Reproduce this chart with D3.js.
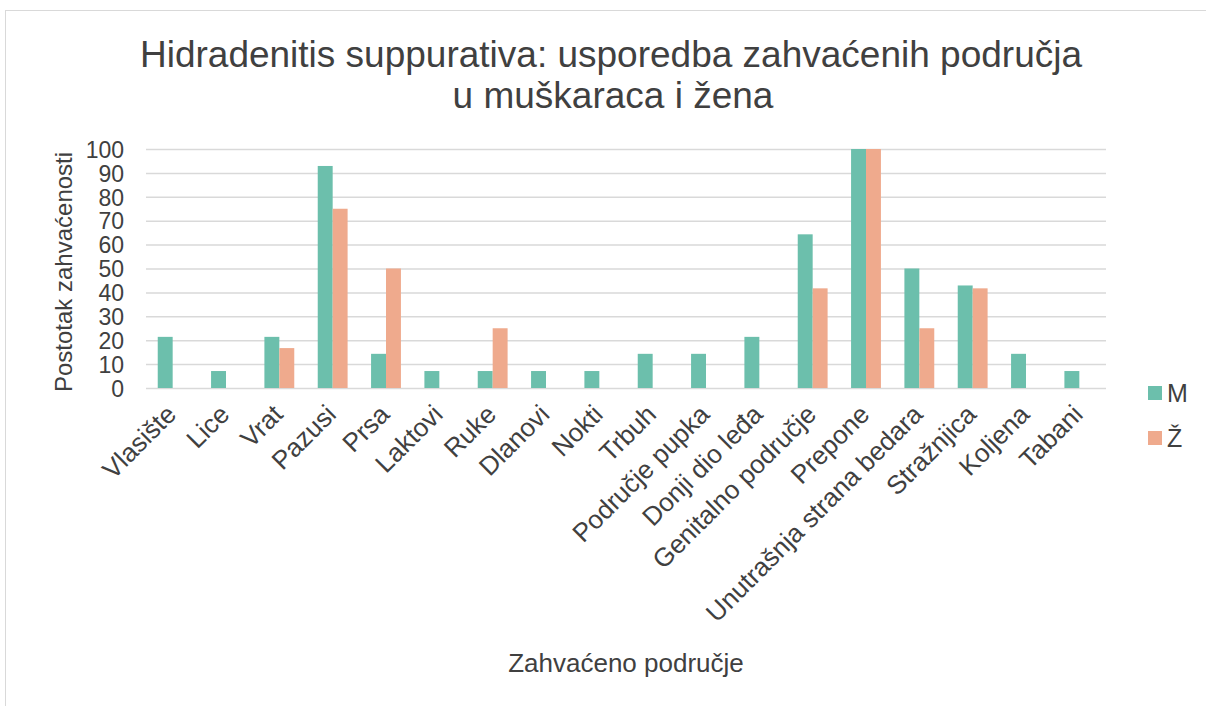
<!DOCTYPE html>
<html>
<head>
<meta charset="utf-8">
<script src="https://cdn.jsdelivr.net/npm/d3@7"></script>
<style>
    body { margin: 0; background: #fff; }
    svg text { font-family: "Liberation Sans", Arial, sans-serif; fill: #404040; }
</style>
</head>
<body>
<div id="chart"></div>
<script>
// data
const categories = ["Vlasište", "Lice", "Vrat", "Pazusi", "Prsa", "Laktovi", "Ruke", "Dlanovi", "Nokti",
    "Trbuh", "Područje pupka", "Donji dio leđa", "Genitalno područje", "Prepone",
    "Unutrašnja strana bedara", "Stražnjica", "Koljena", "Tabani"];
const valuesM = [21.4, 7.1, 21.4, 92.9, 14.3, 7.1, 7.1, 7.1, 7.1, 14.3, 14.3, 21.4, 64.3, 100, 50, 42.9, 14.3, 7.1];
const valuesZ = [0, 0, 16.7, 75, 50, 0, 25, 0, 0, 0, 0, 0, 41.7, 100, 25, 41.7, 0, 0];
const seriesNames = ["M", "Ž"];
const yTicks = [0, 10, 20, 30, 40, 50, 60, 70, 80, 90, 100];

const width = 1206, height = 706;
const margin = { left: 146, right: 100, top: 149, bottom: 318 };
const colors = d3.scaleOrdinal().domain(seriesNames).range(["#6cbfac", "#efaa8d"]);

let svg = d3.select("#chart").append("svg")
    .attr("width", width)
    .attr("height", height);

// outer border
svg.append("rect")
    .attr("x", 5.5).attr("y", 10.5)
    .attr("width", 1300).attr("height", 800)
    .attr("fill", "none")
    .attr("stroke", "#d9d9d9");

let x = d3.scaleBand()
    .domain(categories)
    .range([margin.left, width - margin.right])
    .paddingInner(0.44)
    .paddingOuter(0.22);

let xs = d3.scaleBand()
    .domain(seriesNames)
    .range([0, x.bandwidth()]);

let y = d3.scaleLinear()
    .domain([0, 100])
    .range([height - margin.bottom, margin.top]);

// grid
let yAxis = d3.axisLeft(y).tickValues(yTicks)
    .tickSize(-(width - margin.right - margin.left))
    .tickPadding(22);

let gy = svg.append("g")
    .attr("transform", "translate(" + margin.left + ",0)")
    .call(yAxis);
gy.select(".domain").remove();
gy.selectAll(".tick line").attr("stroke", "#d9d9d9").attr("stroke-width", 1.5);
gy.selectAll(".tick text").style("font-size", "23px").attr("fill", "#404040").attr("dy", "0.36em");

// bars
let rows = categories.map(function (c, i) {
    return { cat: c, vals: [{ s: "M", v: valuesM[i] }, { s: "Ž", v: valuesZ[i] }] };
});

svg.selectAll(".grp")
    .data(rows)
    .enter().append("g").classed("grp", true)
    .attr("transform", function (d) { return "translate(" + x(d.cat) + ",0)"; })
    .selectAll("rect")
    .data(function (d) { return d.vals.filter(function (e) { return e.v > 0; }); })
    .enter().append("rect")
    .attr("x", function (d) { return xs(d.s); })
    .attr("width", xs.bandwidth())
    .attr("y", function (d) { return y(d.v); })
    .attr("height", function (d) { return y(0) - y(d.v); })
    .attr("fill", function (d) { return colors(d.s); });

// x axis labels
let xAxis = d3.axisBottom(x).tickSize(0).tickPadding(0);
let gx = svg.append("g")
    .attr("transform", "translate(0," + y(0) + ")")
    .call(xAxis);
gx.select(".domain").remove();
gx.selectAll(".tick text")
    .style("font-size", "26px")
    .attr("fill", "#404040")
    .attr("text-anchor", "end")
    .attr("dy", 0)
    .attr("transform", "translate(5,28) rotate(-45)");

// titles
svg.append("text")
    .attr("x", 611).attr("y", 67)
    .attr("text-anchor", "middle")
    .style("font-size", "37px")
    .text("Hidradenitis suppurativa: usporedba zahvaćenih područja");
svg.append("text")
    .attr("x", 613).attr("y", 108)
    .attr("text-anchor", "middle")
    .style("font-size", "37px")
    .text("u muškaraca i žena");

svg.append("text")
    .attr("transform", "translate(72,272) rotate(-90)")
    .attr("text-anchor", "middle")
    .style("font-size", "24px")
    .text("Postotak zahvaćenosti");

svg.append("text")
    .attr("x", 626).attr("y", 672)
    .attr("text-anchor", "middle")
    .style("font-size", "26px")
    .text("Zahvaćeno područje");

// legend
let legend = svg.selectAll(".leg")
    .data(seriesNames)
    .enter().append("g").classed("leg", true)
    .attr("transform", function (d, i) { return "translate(1148," + (386 + i * 45) + ")"; });
legend.append("rect")
    .attr("width", 14).attr("height", 14)
    .attr("fill", function (d) { return colors(d); });
legend.append("text")
    .attr("x", 19).attr("y", 16)
    .style("font-size", "25px")
    .text(function (d) { return d; });
</script>
</body>
</html>
